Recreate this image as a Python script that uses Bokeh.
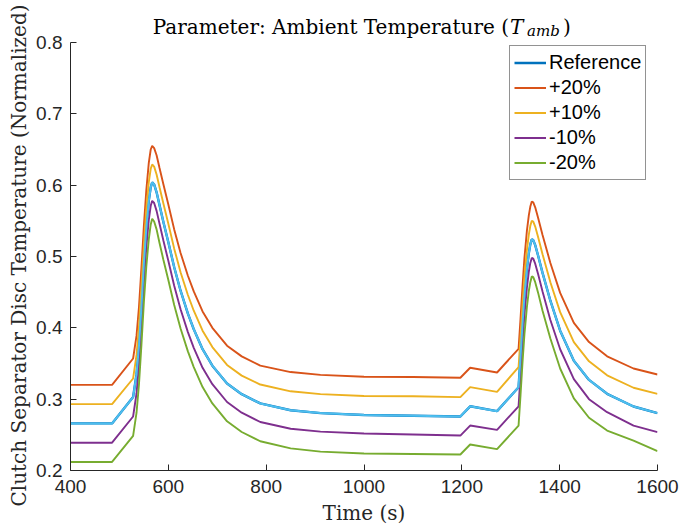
from bokeh.plotting import figure
from bokeh.models import Range1d, Label, Legend, LegendItem, FixedTicker, Title
from bokeh.embed import file_html
from bokeh.resources import INLINE

# ---- data ----
time_s = [400, 485, 528, 535, 540, 545, 550, 555, 560, 564,
          567, 571, 576, 582, 590, 600, 612, 625, 640, 652,
          670, 690, 720, 750, 788, 850, 911, 1000, 1100, 1197,
          1217, 1272, 1316, 1320, 1324, 1328, 1333, 1337, 1340, 1343,
          1346, 1350, 1356, 1365, 1381, 1401, 1429, 1460, 1497, 1551,
          1600]

reference = [0.266, 0.266, 0.303, 0.335, 0.375, 0.43, 0.49, 0.54, 0.578, 0.597,
             0.604, 0.601, 0.59, 0.572, 0.548, 0.52, 0.485, 0.452, 0.42, 0.398,
             0.37, 0.347, 0.322, 0.307, 0.294, 0.2845, 0.2805, 0.2778, 0.2768, 0.2757,
             0.290, 0.2832, 0.3168, 0.36, 0.405, 0.445, 0.483, 0.505, 0.517, 0.524,
             0.523, 0.516, 0.501, 0.477, 0.438, 0.396, 0.354, 0.327, 0.3075, 0.2897,
             0.2804]

plus20 = [0.320, 0.320, 0.357, 0.389, 0.429, 0.484, 0.543, 0.593, 0.631, 0.650,
          0.655, 0.652, 0.642, 0.624, 0.601, 0.573, 0.538, 0.505, 0.473, 0.451,
          0.423, 0.400, 0.375, 0.360, 0.347, 0.338, 0.334, 0.3315, 0.331, 0.330,
          0.344, 0.3374, 0.3706, 0.413, 0.458, 0.498, 0.536, 0.558, 0.570, 0.577,
          0.576, 0.569, 0.554, 0.530, 0.491, 0.449, 0.407, 0.380, 0.360, 0.343,
          0.3346]

plus10 = [0.293, 0.293, 0.329, 0.362, 0.402, 0.457, 0.516, 0.566, 0.604, 0.623,
          0.629, 0.626, 0.615, 0.597, 0.574, 0.546, 0.511, 0.478, 0.446, 0.424,
          0.396, 0.373, 0.348, 0.333, 0.3205, 0.311, 0.307, 0.3045, 0.304, 0.3028,
          0.3168, 0.3103, 0.3448, 0.387, 0.432, 0.472, 0.509, 0.531, 0.543, 0.550,
          0.549, 0.542, 0.527, 0.503, 0.464, 0.422, 0.380, 0.353, 0.3335, 0.316,
          0.3075]

minus10 = [0.239, 0.239, 0.2757, 0.308, 0.348, 0.403, 0.463, 0.513, 0.551, 0.571,
           0.578, 0.575, 0.564, 0.546, 0.522, 0.494, 0.459, 0.426, 0.394, 0.372,
           0.344, 0.321, 0.296, 0.281, 0.268, 0.2585, 0.2545, 0.2518, 0.2505, 0.249,
           0.263, 0.257, 0.290, 0.333, 0.378, 0.418, 0.456, 0.479, 0.491, 0.498,
           0.497, 0.490, 0.475, 0.451, 0.411, 0.370, 0.328, 0.300, 0.2817, 0.263,
           0.2537]

minus20 = [0.212, 0.212, 0.2486, 0.281, 0.321, 0.376, 0.436, 0.486, 0.524, 0.545,
           0.553, 0.549, 0.538, 0.519, 0.495, 0.467, 0.432, 0.399, 0.367, 0.345,
           0.317, 0.294, 0.269, 0.254, 0.241, 0.231, 0.2265, 0.2238, 0.2232, 0.2224,
           0.2364, 0.2299, 0.263, 0.306, 0.351, 0.391, 0.429, 0.452, 0.464, 0.472,
           0.471, 0.464, 0.449, 0.424, 0.385, 0.343, 0.301, 0.274, 0.256, 0.242,
           0.2271]

series_names = ["Reference", "+20%", "+10%", "-10%", "-20%"]
series_values = [reference, plus20, plus10, minus10, minus20]
series_colors = ["#0072BD", "#D95319", "#EDB120", "#7E2F8E", "#77AC30"]
overlay_color = "#4DBEEE"

x_ticks = [400, 600, 800, 1000, 1200, 1400, 1600]
y_ticks = [0.2, 0.3, 0.4, 0.5, 0.6, 0.7, 0.8]

title_main = "Parameter: Ambient Temperature ("
title_sym = "T"
title_sub = "amb"
title_end = ")"
x_label = "Time (s)"
y_label = "Clutch Separator Disc Temperature (Normalized)"

AX = "#262626"
SANS = "Liberation Sans"
SERIF = "DejaVu Serif"

# layout constants (pixels)
W, H = 681, 530
LEFT, RIGHT, BOTTOM = 70, 24, 60
AXIS_TOP = 42                      # where 0.8 sits; frame reaches the top edge
PLOT_H = H - BOTTOM                # frame height in px
Y0, Y1 = y_ticks[0], y_ticks[-1]
y_top = Y1 + AXIS_TOP * (Y1 - Y0) / (PLOT_H - AXIS_TOP)

p = figure(width=W, height=H, output_backend="svg", toolbar_location=None, title=None,
           x_range=Range1d(x_ticks[0], x_ticks[-1]), y_range=Range1d(Y0, y_top))
p.min_border = 0
p.min_border_left = LEFT
p.min_border_right = RIGHT
p.min_border_top = 0
p.min_border_bottom = BOTTOM
p.outline_line_color = None
p.background_fill_color = "white"
p.border_fill_color = "white"
p.xgrid.visible = False
p.ygrid.visible = False

for ax, ticks in ((p.xaxis[0], x_ticks), (p.yaxis[0], y_ticks)):
    ax.ticker = FixedTicker(ticks=ticks)
    ax.major_tick_in = 6
    ax.major_tick_out = 0
    ax.minor_tick_line_color = None
    ax.axis_line_color = AX
    ax.major_tick_line_color = AX
    ax.axis_line_width = 1
    ax.major_label_text_font = SANS
    ax.major_label_text_font_size = "19px"
    ax.major_label_text_color = AX
p.yaxis[0].bounds = (Y0, Y1)
p.xaxis[0].major_label_standoff = 9
p.yaxis[0].major_label_standoff = 8
p.xaxis[0].major_label_overrides = {tk: str(tk) for tk in x_ticks}
p.yaxis[0].major_label_overrides = {tk: f"{tk:.1f}" for tk in y_ticks}
p.xaxis[0].axis_label = x_label
p.xaxis[0].axis_label_text_font = SERIF
p.xaxis[0].axis_label_text_font_size = "20px"
p.xaxis[0].axis_label_text_font_style = "normal"
p.xaxis[0].axis_label_text_color = AX
p.xaxis[0].axis_label_standoff = 5

# y label as a side title, started below the axis so it is centred on 0.2-0.8
ylab = Title(text=y_label, align="left", offset=-36, standoff=5,
             text_font=SERIF, text_font_size="20px", text_font_style="normal",
             text_color=AX)
p.add_layout(ylab, "left")

renderers = []
for name, vals, col in zip(series_names, series_values, series_colors):
    w = 2.4 if name == "Reference" else 1.9
    r = p.line(time_s, vals, line_color=col, line_width=w)
    renderers.append(r)
p.line(time_s, reference, line_color=overlay_color, line_width=2.0)

legend = Legend(items=[LegendItem(label=n, renderers=[r]) for n, r in zip(series_names, renderers)],
                location=(439, 290))
legend.label_text_font = SANS
legend.label_text_font_size = "20px"
legend.label_text_color = "black"
legend.glyph_width = 32
legend.glyph_height = 25
legend.label_height = 25
legend.label_standoff = 3
legend.spacing = 0
legend.padding = 4
legend.margin = 0
legend.border_line_color = AX
legend.border_line_width = 1
legend.background_fill_color = "white"
legend.background_fill_alpha = 1
p.add_layout(legend, "center")

# title pieces, anchored above the top of the y axis (center of x range)
x_mid = (x_ticks[0] + x_ticks[-1]) / 2
for txt, dx, dy, size, style, align in (
        (title_main, 145, 16, "20px", "normal", "right"),
        (title_sym, 146, 16, "20px", "italic", "left"),
        (title_sub, 163, 12, "15px", "italic", "left"),
        (title_end, 199, 16, "20px", "normal", "left")):
    p.add_layout(Label(x=x_mid, y=Y1, x_offset=dx, y_offset=dy, text=txt,
                       text_font=SERIF, text_font_size=size, text_font_style=style,
                       text_align=align, text_baseline="alphabetic", text_color="black"))

open("out.html", "w").write(file_html(p, INLINE))
